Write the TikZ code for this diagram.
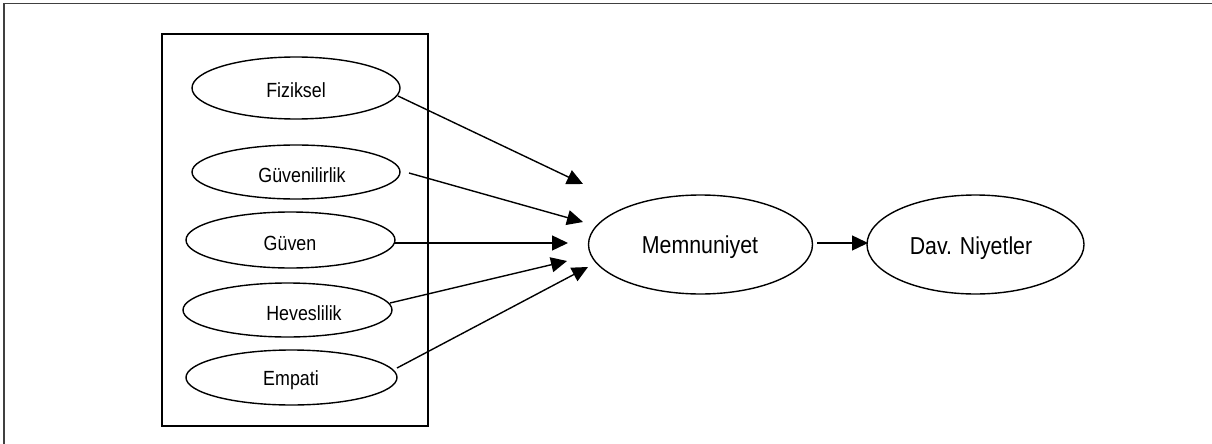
\documentclass[tikz,border=0pt]{standalone}
\usepackage{fontspec}
\setmainfont{Liberation Sans}
\newfontfamily\nf[FakeStretch=0.87]{Liberation Sans}
\usetikzlibrary{shapes.geometric,arrows.meta}
\tikzset{
  oval/.style={draw, ellipse, line width=1.4pt, inner sep=0pt},
  lbl/.style={font=\nf\fontsize{20.5}{22}\selectfont, inner sep=0pt},
  biglbl/.style={font=\nf\fontsize{24.5}{26}\selectfont, inner sep=0pt},
  conn/.style={line width=1.4pt, -{Triangle[length=16pt,width=15pt]}},
}
\begin{document}
\begin{tikzpicture}[x=1pt,y=-1pt]
\useasboundingbox (0,0) rectangle (1212,444);
% outer frame (top and left edges only)
\draw[black!75, line width=1.6pt] (4,444) -- (4,3.5) -- (1212,3.5);
% inner box
\node[draw, line width=1.6pt, minimum width=266pt, minimum height=392pt, inner sep=0pt] (box) at (295,230) {};
% ellipses
\node[oval, minimum width=208pt, minimum height=62pt] (fiz) at (296,88) {};
\node[oval, minimum width=208pt, minimum height=54pt] (guvl) at (296,172) {};
\node[oval, minimum width=209pt, minimum height=56pt] (guv) at (290.5,240) {};
\node[oval, minimum width=209pt, minimum height=54pt] (hev) at (287.5,310) {};
\node[oval, minimum width=211pt, minimum height=55pt] (emp) at (291.5,377.5) {};
\node[oval, minimum width=224pt, minimum height=99pt] (mem) at (700.5,244.5) {};
\node[oval, minimum width=217pt, minimum height=99pt] (dav) at (975.5,244.5) {};
% labels
\node[lbl] (tfiz) at (296,90) {Fiziksel};
\node[lbl] (tguvl) at (302,175) {Güvenilirlik};
\node[lbl] (tguv) at (290,243) {Güven};
\node[lbl] (thev) at (304,313) {Heveslilik};
\node[lbl] (temp) at (291,380) {Empati};
\node[biglbl] (tmem) at (700,247) {Memnuniyet};
\node[biglbl] (tdav) at (971,248) {Dav. Niyetler};
% anchor points
\coordinate (s1) at (398,96);
\coordinate (e1) at (583,184);
\coordinate (s2) at (409,173);
\coordinate (e2) at (583,222);
\coordinate (s3) at (395,243);
\coordinate (e3) at (568,243);
\coordinate (s4) at (390,303);
\coordinate (e4) at (567,261);
\coordinate (s5) at (397,368);
\coordinate (e5) at (588,267);
\coordinate (s6) at (817,243);
\coordinate (e6) at (868,243);
% connectors
\draw[conn] (s1) -- (e1);
\draw[conn] (s2) -- (e2);
\draw[conn] (s3) -- (e3);
\draw[conn] (s4) -- (e4);
\draw[conn] (s5) -- (e5);
\draw[conn] (s6) -- (e6);
\end{tikzpicture}
\end{document}
